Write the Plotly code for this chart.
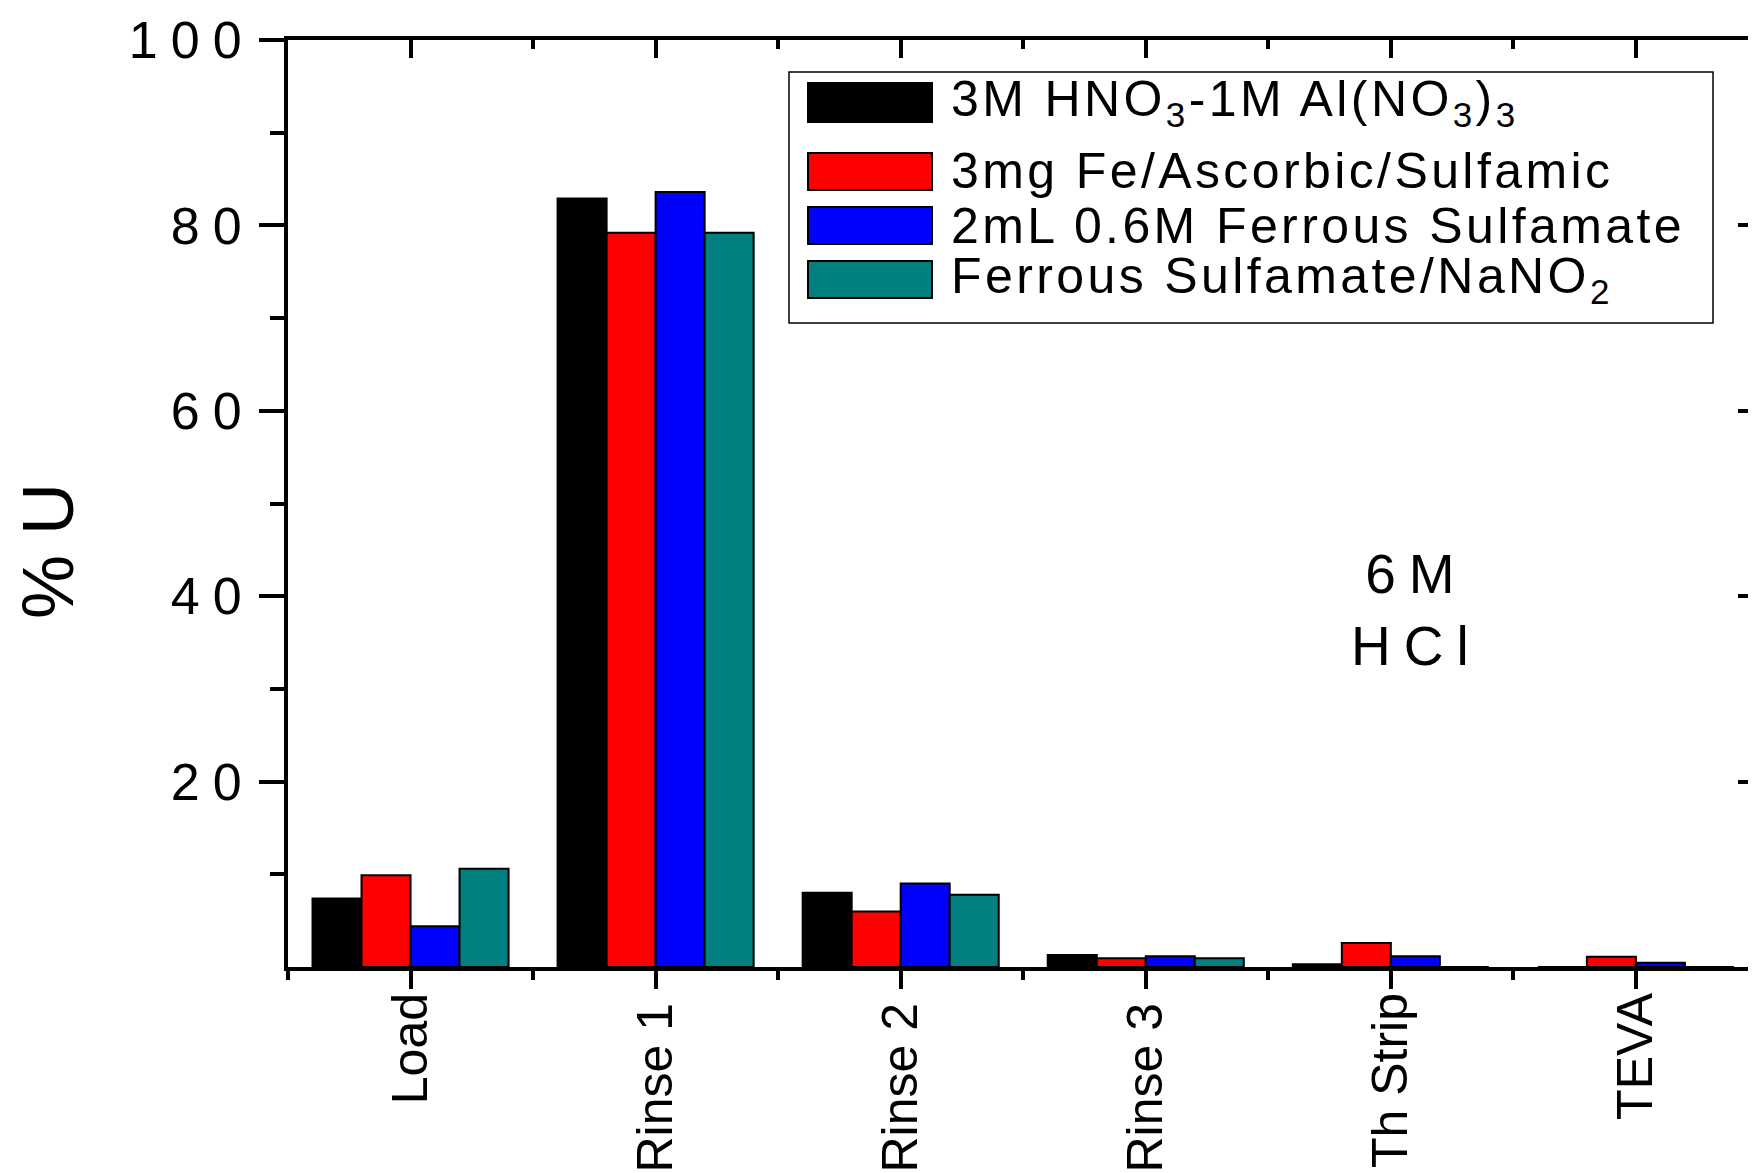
import plotly.graph_objects as go

# ---------------- data ----------------
categories = ["Load", "Rinse 1", "Rinse 2", "Rinse 3", "Th Strip", "TEVA"]
series_names = [
    "3M HNO<sub>3</sub>-1M Al(NO<sub>3</sub>)<sub>3</sub>",
    "3mg Fe/Ascorbic/Sulfamic",
    "2mL 0.6M Ferrous Sulfamate",
    "Ferrous Sulfamate/NaNO<sub>2</sub>",
]
hno3_al = [7.4, 82.9, 8.0, 1.3, 0.3, 0.0]
fe_ascorbic = [9.9, 79.2, 6.0, 0.95, 2.6, 1.1]
fe_sulfamate = [4.4, 83.6, 9.0, 1.15, 1.15, 0.45]
fs_nano2 = [10.6, 79.2, 7.8, 0.95, 0.0, 0.0]
series_values = [hno3_al, fe_ascorbic, fe_sulfamate, fs_nano2]
colors = ["#000000", "#FF0000", "#0000FF", "#008080"]

y_ticks = [20, 40, 60, 80, 100]
y_minor = [10, 30, 50, 70, 90]
y_title = "% U"
note_text = "6M<br>HCl"

FONT = "Liberation Sans, Arial, sans-serif"

# ---------------- geometry (window pixels; page body has an 8px margin) ----------------
OFF = 8
WIN_W, WIN_H = 1756, 1173
W, H = WIN_W - OFF, WIN_H - OFF
PLOT_L, PLOT_T, PLOT_B = 288, 40, 967          # window coords
L = PLOT_L - OFF
T = PLOT_T - OFF
B = H - (PLOT_B - OFF)
R = 0
PW, PH = W - L - R, H - T - B


def px(x):
    return (x - OFF - L) / PW


def py(y):
    return (H - B - (y - OFF)) / PH


def spaced(text, ls):
    return f'<span style="letter-spacing:{ls}px">{text}</span>'


xpos = list(range(len(categories)))
xmin, xmax = -0.5, len(categories) - 0.51
boundaries = [i - 0.5 for i in range(len(categories) + 1)]
# Rinse labels in the original carry a little trailing room
xlabels = [c + "\u2009" if c.startswith("Rinse") else c for c in categories]

fig = go.Figure()
for name, vals, col in zip(series_names, series_values, colors):
    fig.add_trace(go.Bar(
        x=xpos, y=vals, name=name,
        marker=dict(color=col, line=dict(color="#000000", width=2)),
        showlegend=False,
    ))

# empty trace that activates the overlay axes (draws nothing)
fig.add_trace(go.Scatter(x=[], y=[], xaxis="x2", yaxis="y2", showlegend=False))

fig.update_layout(
    width=W, height=H,
    margin=dict(l=L, r=R, t=T, b=B, pad=0, autoexpand=False),
    paper_bgcolor="white", plot_bgcolor="white",
    barmode="group", bargap=0.2, bargroupgap=0.0,
    font=dict(family=FONT, color="black"),
    xaxis=dict(
        range=[xmin, xmax], tickmode="array", tickvals=xpos, ticktext=xlabels,
        tickangle=-90, ticks="outside", ticklen=18, tickwidth=3.5, tickcolor="black",
        tickfont=dict(size=50, family=FONT, color="black"),
        ticklabelstandoff=-16,
        minor=dict(tickmode="array", tickvals=boundaries, ticks="outside",
                   ticklen=9, tickwidth=3.5, tickcolor="black"),
        showline=True, linewidth=4, linecolor="black", mirror=True,
        showgrid=False, zeroline=False, automargin=False,
    ),
    yaxis=dict(
        range=[0, 100], tickmode="array", tickvals=y_ticks,
        ticktext=[spaced(v, 13) for v in y_ticks],
        ticks="outside", ticklen=25, tickwidth=3.5, tickcolor="black",
        tickfont=dict(size=52, family=FONT, color="black"),
        ticklabelstandoff=-6,
        minor=dict(tickmode="array", tickvals=y_minor, ticks="outside",
                   ticklen=14, tickwidth=3.5, tickcolor="black"),
        showline=True, linewidth=4, linecolor="black", mirror=False,
        showgrid=False, zeroline=False, automargin=False,
    ),
    xaxis2=dict(
        overlaying="x", side="top", anchor="y", matches="x",
        range=[xmin, xmax], tickmode="array", tickvals=xpos, showticklabels=False,
        ticks="inside", ticklen=18, tickwidth=3.5, tickcolor="black",
        minor=dict(tickmode="array", tickvals=boundaries, ticks="inside",
                   ticklen=9, tickwidth=3.5, tickcolor="black"),
        showline=False, showgrid=False, zeroline=False,
    ),
    yaxis2=dict(
        overlaying="y", side="right", anchor="x", range=[0, 100],
        tickmode="array", tickvals=y_ticks, showticklabels=False,
        ticks="inside", ticklen=18, tickwidth=3.5, tickcolor="black",
        minor=dict(tickmode="array", tickvals=y_minor, ticks="inside",
                   ticklen=6, tickwidth=3.5, tickcolor="black"),
        showline=False, showgrid=False, zeroline=False,
    ),
)

# ---------------- manual legend ----------------
shapes = []
annotations = []
shapes.append(dict(type="rect", xref="paper", yref="paper",
                   x0=px(789), x1=px(1713), y0=py(323), y1=py(72),
                   line=dict(color="black", width=1.5), fillcolor="white", layer="above"))
rows = [(83, 122), (153, 190), (207, 244), (261, 298)]
for (y0, y1), name, col in zip(rows, series_names, colors):
    shapes.append(dict(type="rect", xref="paper", yref="paper",
                       x0=px(808), x1=px(932), y0=py(y1), y1=py(y0),
                       line=dict(color="black", width=2), fillcolor=col, layer="above"))
    annotations.append(dict(
        xref="paper", yref="paper", x=px(949), y=py((y0 + y1) / 2),
        xanchor="left", yanchor="middle", showarrow=False,
        text=spaced(name, 3.4), font=dict(size=50, family=FONT, color="black"),
    ))

# y title
annotations.append(dict(
    xref="paper", yref="paper", x=px(48), y=py(551), xanchor="center", yanchor="middle",
    showarrow=False, textangle=-90, text=y_title,
    font=dict(size=72, family=FONT, color="black"),
))
# note
annotations.append(dict(
    xref="paper", yref="paper", x=px(1416), y=py(610), xanchor="center", yanchor="middle",
    showarrow=False, text=spaced(note_text, 13), align="center",
    font=dict(size=55, family=FONT, color="black"),
))

fig.update_layout(shapes=shapes, annotations=annotations)
fig.write_html("out.html")
